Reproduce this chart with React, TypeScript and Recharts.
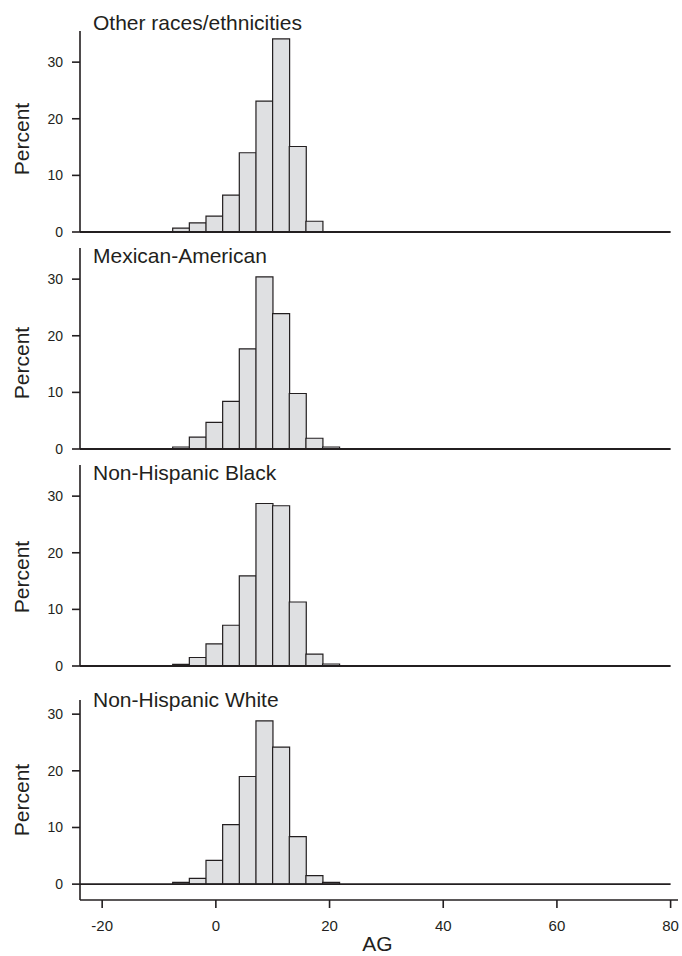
import React from "react";
import {
  ComposedChart,
  Bar,
  XAxis,
  YAxis,
  ReferenceLine,
} from "recharts";

// bin centers (AG), ~2.93 wide
const BIN_CENTERS = [-6.13, -3.2, -0.27, 2.66, 5.59, 8.52, 11.45, 14.38, 17.31, 20.24];

// percent per bin, one array per group
const OTHER = [0.7, 1.6, 2.8, 6.5, 14.0, 23.1, 34.1, 15.1, 1.9, 0];
const MEXICAN = [0.35, 2.1, 4.7, 8.4, 17.7, 30.4, 23.9, 9.8, 1.9, 0.35];
const BLACK = [0.3, 1.5, 3.9, 7.2, 15.9, 28.7, 28.3, 11.3, 2.1, 0.35];
const WHITE = [0.3, 1.0, 4.2, 10.5, 19.0, 28.8, 24.2, 8.4, 1.5, 0.3];

const PANEL_TITLES = [
  "Other races/ethnicities",
  "Mexican-American",
  "Non-Hispanic Black",
  "Non-Hispanic White",
];
const Y_TICKS = [0, 10, 20, 30];
const X_TICKS = [-20, 0, 20, 40, 60, 80];
const X_DOMAIN: [number, number] = [-23.9, 81.3];

const INK = "#231f20";
const FILL = "#dfe0e2";
const FONT = "'Liberation Sans', Arial, Helvetica, sans-serif";

const toRows = (values: number[]) =>
  BIN_CENTERS.map((ag, i) => ({ ag, pct: values[i] }));

// layout of each panel (px)
const PANELS = [
  { values: OTHER, top: 21, titleY: 30, labelY: 139 },
  { values: MEXICAN, top: 238, titleY: 262.7, labelY: 363 },
  { values: BLACK, top: 455, titleY: 480, labelY: 577 },
  { values: WHITE, top: 690, titleY: 706.7, labelY: 800 },
];

const Panel = ({ values, last }: { values: number[]; last: boolean }) => {
  const plotH = last ? 200 : 201;
  const axisH = last ? 50 : 0;
  return (
    <ComposedChart
      width={682}
      height={10 + plotH + axisH + (last ? 0 : 12)}
      data={toRows(values)}
      margin={{ top: 10, right: 4, bottom: last ? 0 : 12, left: 0 }}
      barCategoryGap={0}
      barGap={0}
    >
      <XAxis
        dataKey="ag"
        type="number"
        domain={X_DOMAIN}
        ticks={X_TICKS}
        interval={0}
        allowDataOverflow
        hide={!last}
        height={axisH}
        stroke={INK}
        fontSize={15}
        axisLine={{ stroke: INK, strokeWidth: 1.6 }}
        tickLine={{ stroke: INK, strokeWidth: 1.6 }}
        tickSize={8}
        tickMargin={12}
        tick={{ fontSize: 15, fill: INK, fontFamily: FONT }}
      />
      <YAxis
        type="number"
        domain={last ? [-2.8, 32.5] : [0, 35.5]}
        ticks={Y_TICKS}
        interval={0}
        allowDataOverflow
        width={80}
        fontSize={14}
        axisLine={{ stroke: INK, strokeWidth: 1.6 }}
        tickLine={{ stroke: INK, strokeWidth: 1.6 }}
        tickSize={8}
        tickMargin={9}
        tick={{ fontSize: 14, fill: INK, fontFamily: FONT }}
      />
      <Bar
        dataKey="pct"
        fill={FILL}
        stroke={INK}
        strokeWidth={1.2}
        isAnimationActive={false}
      />
      <ReferenceLine
        segment={[
          { x: X_DOMAIN[0], y: 0 },
          { x: 80, y: 0 },
        ]}
        stroke={INK}
        strokeWidth={1.8}
      />
    </ComposedChart>
  );
};

export default function App() {
  return (
    <div
      style={{
        position: "absolute",
        left: 0,
        top: 0,
        width: 682,
        height: 956,
        background: "#fff",
        fontFamily: FONT,
      }}
    >
      {PANELS.map((p, i) => (
        <div key={i} style={{ position: "absolute", left: 0, top: p.top }}>
          <Panel values={p.values} last={i === PANELS.length - 1} />
        </div>
      ))}
      <svg
        width={682}
        height={956}
        style={{ position: "absolute", left: 0, top: 0, pointerEvents: "none" }}
      >
        {PANELS.map((p, i) => (
          <g key={i}>
            <text x={93} y={p.titleY} fontSize={21} fill={INK} fontFamily={FONT}>
              {PANEL_TITLES[i]}
            </text>
            <text
              x={21}
              y={p.labelY}
              fontSize={21}
              fill={INK}
              fontFamily={FONT}
              textAnchor="middle"
              dominantBaseline="central"
              transform={`rotate(-90 21 ${p.labelY})`}
            >
              Percent
            </text>
          </g>
        ))}
        <text x={377.5} y={951} fontSize={21} fill={INK} fontFamily={FONT} textAnchor="middle">
          AG
        </text>
      </svg>
    </div>
  );
}
